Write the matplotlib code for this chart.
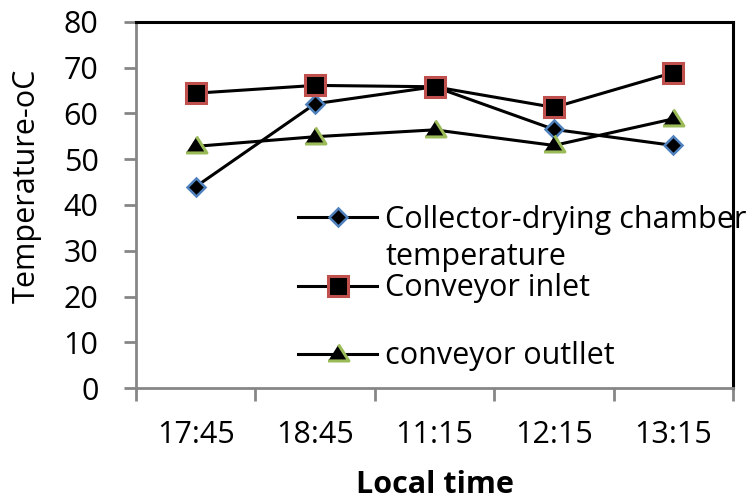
import matplotlib
matplotlib.use("Agg")
import matplotlib.pyplot as plt
import numpy as np

plt.rcParams['font.family'] = ['Open Sans', 'DejaVu Sans']

# local time of each reading
times = ["17:45", "18:45", "11:15", "12:15", "13:15"]

# temperatures in deg C
collector_chamber = [44.0, 62.1, 65.8, 56.5, 53.0]
conveyor_inlet = [64.4, 66.1, 65.8, 61.3, 68.9]
conveyor_outlet = [52.8, 54.9, 56.4, 53.0, 58.8]

AXIS_GREY = "#868686"
FS = 22

fig = plt.figure(figsize=(7.52, 5.0), dpi=100)
ax = fig.add_axes([0.1809, 0.2234, 0.7939, 0.7332])

# flat-bottomed triangle, a bit wider than tall
tri = [(-1.0, -0.62), (1.0, -0.62), (0.0, 0.95)]

x = np.arange(len(times))
ax.plot(x, collector_chamber, color="black", lw=2.2, marker="D", ms=9.5,
        mfc="black", mec="#4f81bd", mew=1.8, label="Collector-drying chamber")
ax.plot(x, conveyor_inlet, color="black", lw=2.2, marker="s", ms=14,
        mfc="black", mec="#c0504d", mew=2.2, label="Conveyor inlet")
ax.plot(x, conveyor_outlet, color="black", lw=2.2, marker=tri, ms=15,
        mfc="black", mec="#9bbb59", mew=2.2, label="conveyor outllet")

ax.set_xlim(-0.5, len(times) - 0.5)
ax.set_ylim(0, 80)
ax.set_yticks(range(0, 81, 10))
ax.tick_params(axis="y", direction="out", length=9, width=2, color=AXIS_GREY,
               labelsize=FS, pad=18)

# category axis: tick marks between categories, labels centred on them
ax.set_xticks(np.arange(len(times) + 1) - 0.5)
ax.set_xticklabels([])
ax.set_xticks(x, minor=True)
ax.set_xticklabels(times, minor=True)
ax.tick_params(axis="x", which="major", direction="out", length=9, width=2,
               color=AXIS_GREY)
ax.tick_params(axis="x", which="minor", length=0, labelsize=FS, pad=23)

for s in ["left", "bottom"]:
    ax.spines[s].set_color(AXIS_GREY)
    ax.spines[s].set_linewidth(2)
for s in ["top", "right"]:
    ax.spines[s].set_color("black")
    ax.spines[s].set_linewidth(2.2)

ax.set_ylabel("Temperature-oC", fontsize=22)
ax.yaxis.set_label_coords(-0.158, 0.552)
ax.set_xlabel("Local time", fontsize=22, fontweight="bold")
ax.xaxis.set_label_coords(0.5, -0.222)

leg = ax.legend(loc="upper left", bbox_to_anchor=(0.271, 0.50), frameon=False,
                fontsize=FS, handlelength=2.6, handletextpad=0.26,
                labelspacing=1.25, borderaxespad=0, borderpad=0)

# second line of the first legend label, set under its first line
fig.canvas.draw()
first = leg.get_texts()[0]
bb = first.get_window_extent().transformed(ax.transAxes.inverted())
ax.text(bb.x0, bb.y0 - 0.02, "temperature", transform=ax.transAxes,
        fontsize=FS, ha="left", va="top")

fig.savefig("out.png", dpi=100)
